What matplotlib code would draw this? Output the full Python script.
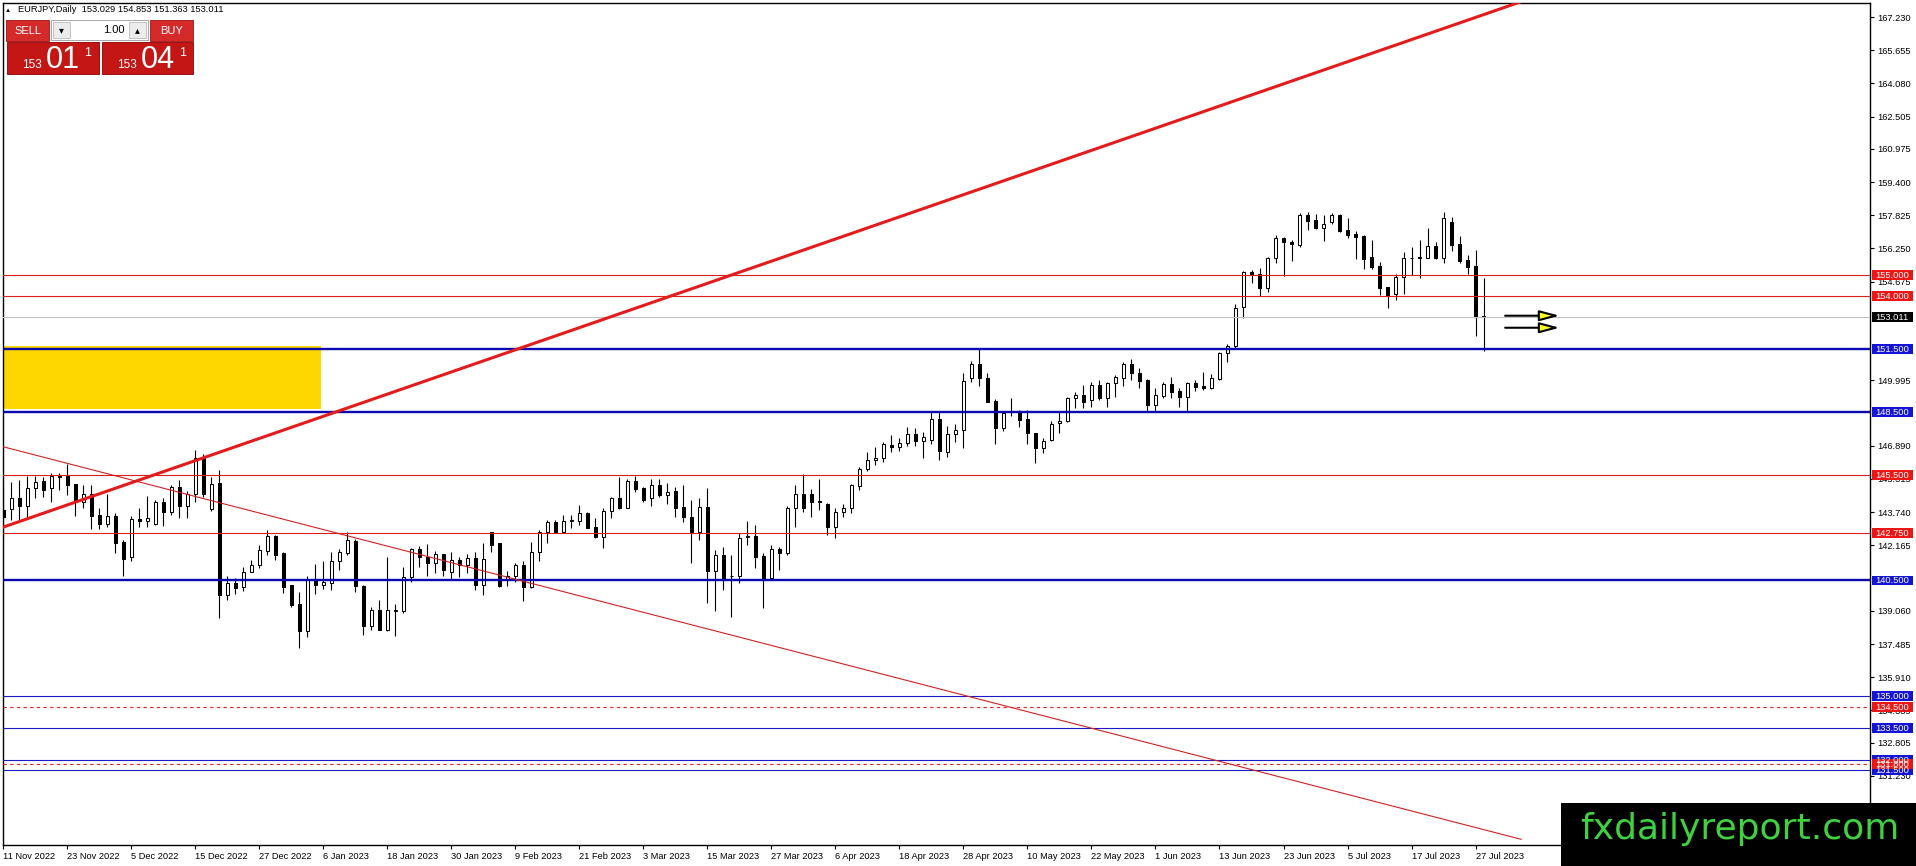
import numpy as np
import matplotlib.pyplot as plt
from matplotlib.patches import Rectangle

plt.rcParams['font.family'] = ['Liberation Sans', 'DejaVu Sans']

# ---- data ----
symbol = "EURJPY,Daily"
last_ohlc = [153.029, 154.853, 151.363, 153.011]

date_labels = ["11 Nov 2022", "23 Nov 2022", "5 Dec 2022", "15 Dec 2022", "27 Dec 2022",
               "6 Jan 2023", "18 Jan 2023", "30 Jan 2023", "9 Feb 2023", "21 Feb 2023",
               "3 Mar 2023", "15 Mar 2023", "27 Mar 2023", "6 Apr 2023", "18 Apr 2023",
               "28 Apr 2023", "10 May 2023", "22 May 2023", "1 Jun 2023", "13 Jun 2023",
               "23 Jun 2023", "5 Jul 2023", "17 Jul 2023", "27 Jul 2023"]
label_step = 8  # one date label every 8 bars

opens = [143.84, 143.87, 144.39, 144.03, 144.91, 145.21, 144.91, 145.41, 145.44, 145.06,
         144.23, 144.59, 143.60, 143.18, 143.55, 142.34, 141.63, 143.40, 143.33, 143.18,
         144.23, 143.76, 144.94, 144.03, 144.62, 146.32, 143.87, 145.13, 139.82, 140.37,
         140.19, 140.92, 141.21, 141.92, 142.61, 141.79, 140.30, 139.40, 138.09, 140.56,
         140.30, 140.37, 141.40, 141.82, 142.39, 140.25, 138.36, 139.08, 138.14, 139.06,
         139.04, 140.66, 141.98, 141.60, 141.35, 141.76, 140.92, 141.48, 141.24, 141.55,
         140.30, 142.78, 142.26, 140.53, 140.69, 141.21, 140.17, 141.87, 142.81, 143.29,
         142.81, 143.39, 143.33, 143.68, 143.05, 142.58, 143.80, 144.42, 143.95, 145.21,
         144.89, 144.42, 145.05, 144.54, 144.73, 143.98, 143.52, 142.81, 144.00, 140.96,
         141.71, 140.69, 140.69, 142.62, 142.62, 141.66, 140.60, 141.98, 141.82, 143.96,
         144.62, 144.59, 144.26, 144.15, 143.02, 143.76, 143.96, 144.97, 145.80, 146.23,
         146.32, 146.94, 146.83, 147.02, 147.46, 147.11, 147.17, 148.16, 146.59, 147.46,
         147.64, 150.10, 150.79, 150.10, 149.00, 147.74, 148.53, 148.53, 148.15, 147.49,
         146.77, 147.16, 147.95, 148.07, 149.14, 149.30, 149.06, 149.77, 149.17, 149.85,
         150.12, 150.75, 150.33, 150.01, 148.83, 149.27, 149.81, 149.49, 149.22, 149.85,
         149.72, 149.65, 150.06, 151.28, 151.64, 153.49, 155.12, 155.02, 154.36, 155.81,
         156.76, 156.57, 156.41, 157.84, 157.60, 157.20, 157.49, 157.84, 157.12, 156.92,
         156.86, 155.84, 155.42, 154.44, 154.07, 154.91, 155.78, 155.84, 155.81, 156.37,
         155.81, 157.52, 156.45, 155.70, 155.42, 153.029]
highs = [144.94, 145.17, 145.28, 145.44, 145.44, 145.41, 145.60, 145.60, 146.04, 145.10,
         145.02, 145.02, 143.96, 144.59, 143.68, 142.42, 143.55, 143.92, 144.50, 144.31,
         144.39, 145.02, 145.28, 144.75, 146.67, 146.51, 145.41, 145.76, 140.72, 140.61,
         141.16, 141.48, 142.18, 142.89, 142.66, 141.87, 140.30, 139.93, 140.72, 141.29,
         141.40, 141.87, 141.98, 142.81, 142.45, 140.30, 139.24, 139.59, 141.63, 139.40,
         141.16, 142.03, 142.14, 142.23, 141.92, 141.76, 141.87, 141.63, 141.76, 141.87,
         142.29, 142.81, 142.29, 140.97, 141.32, 141.43, 142.31, 142.89, 143.36, 143.36,
         143.60, 143.60, 144.10, 143.76, 143.44, 143.92, 144.47, 145.41, 145.33, 145.46,
         144.94, 145.33, 145.33, 145.14, 144.94, 145.02, 144.31, 144.39, 144.89, 141.95,
         142.10, 141.71, 142.73, 143.30, 143.13, 141.79, 142.18, 142.07, 144.03, 145.02,
         145.57, 144.86, 145.33, 144.18, 143.92, 144.15, 145.10, 145.88, 146.59, 146.83,
         147.06, 147.38, 147.27, 147.80, 147.74, 147.53, 148.56, 148.56, 147.85, 147.90,
         150.32, 150.89, 151.47, 150.32, 149.11, 148.56, 149.16, 148.60, 148.59, 147.49,
         147.24, 148.08, 148.50, 149.22, 149.46, 149.77, 149.93, 150.01, 149.93, 150.25,
         150.88, 151.01, 150.56, 150.06, 149.65, 149.90, 150.17, 149.65, 149.93, 150.01,
         150.41, 150.28, 151.33, 151.71, 153.60, 155.18, 155.21, 155.34, 155.86, 156.89,
         156.81, 156.65, 157.92, 157.99, 157.87, 157.84, 157.92, 157.87, 157.68, 157.08,
         156.89, 156.65, 155.62, 154.44, 155.02, 156.07, 156.34, 156.65, 157.20, 156.57,
         157.99, 157.76, 156.86, 155.94, 156.18, 154.853]
lows = [142.50, 143.36, 143.33, 143.44, 144.39, 144.47, 144.23, 144.78, 144.54, 143.55,
        143.96, 142.94, 142.92, 143.05, 141.82, 140.69, 141.44, 143.02, 143.05, 143.13,
        143.08, 143.60, 143.44, 143.44, 144.23, 144.47, 143.80, 138.72, 139.59, 139.87,
        139.98, 140.88, 141.08, 141.71, 141.48, 139.90, 139.24, 137.31, 137.82, 139.87,
        140.09, 140.06, 141.00, 141.71, 139.93, 137.93, 138.17, 138.14, 138.10, 137.86,
        138.96, 140.41, 141.16, 140.72, 140.85, 140.72, 140.50, 140.66, 140.85, 140.06,
        139.82, 141.87, 140.19, 140.22, 140.42, 139.51, 140.14, 141.43, 142.26, 142.78,
        142.78, 142.97, 143.13, 142.97, 142.50, 142.06, 143.47, 143.88, 143.92, 144.70,
        144.20, 144.04, 144.47, 144.15, 143.52, 143.25, 141.32, 142.42, 139.43, 139.04,
        140.06, 138.75, 140.37, 142.18, 141.08, 139.19, 140.56, 141.00, 141.71, 143.05,
        143.76, 143.52, 143.84, 142.66, 142.50, 143.52, 143.71, 144.81, 145.69, 145.96,
        146.12, 146.59, 146.64, 146.90, 146.90, 146.32, 146.98, 146.23, 146.35, 147.06,
        146.80, 149.90, 149.74, 148.95, 146.98, 147.58, 148.32, 147.77, 146.98, 146.06,
        146.56, 147.13, 147.51, 148.00, 148.70, 148.67, 148.75, 149.06, 148.75, 149.22,
        149.74, 150.01, 149.65, 148.51, 148.51, 149.17, 149.14, 148.75, 148.51, 149.49,
        149.54, 149.58, 150.01, 150.85, 151.55, 152.97, 154.60, 154.01, 154.20, 155.55,
        154.96, 155.65, 156.34, 157.13, 157.17, 156.61, 157.40, 157.04, 156.76, 155.75,
        155.27, 155.27, 154.04, 153.41, 153.81, 154.07, 154.99, 154.83, 155.78, 155.75,
        155.55, 156.13, 155.55, 155.02, 152.11, 151.363]
closes = [143.52, 144.39, 144.03, 144.91, 145.17, 144.78, 145.44, 145.44, 145.02, 144.23,
          144.59, 143.55, 143.18, 143.55, 142.29, 141.51, 143.40, 143.33, 143.44, 144.23,
          143.76, 144.94, 144.03, 144.62, 146.32, 144.59, 145.10, 139.82, 140.37, 140.14,
          140.92, 141.24, 141.95, 142.61, 141.71, 140.19, 139.35, 138.09, 140.56, 140.30,
          140.45, 141.43, 141.87, 142.42, 140.22, 138.36, 139.08, 138.14, 139.08, 139.08,
          140.66, 141.98, 141.60, 141.35, 141.76, 141.00, 141.48, 141.24, 141.55, 140.30,
          141.51, 142.18, 140.25, 140.69, 141.21, 140.17, 141.87, 142.81, 143.29, 142.81,
          143.33, 143.33, 143.68, 143.00, 142.58, 143.80, 144.39, 143.92, 145.21, 144.86,
          144.31, 145.05, 144.54, 144.70, 143.95, 143.52, 142.81, 144.00, 140.96, 141.71,
          140.53, 140.72, 142.53, 142.56, 141.63, 140.53, 141.98, 141.82, 143.96, 144.62,
          143.96, 144.23, 144.20, 143.02, 143.76, 143.96, 145.02, 145.80, 146.23, 146.32,
          146.98, 146.83, 147.02, 147.46, 147.11, 147.30, 148.16, 146.64, 147.46, 147.64,
          149.94, 150.79, 150.10, 148.95, 147.74, 148.43, 148.47, 148.12, 147.49, 146.77,
          147.13, 147.92, 148.08, 149.14, 149.30, 148.98, 149.77, 149.17, 149.85, 150.17,
          150.75, 150.33, 149.96, 148.83, 149.30, 149.81, 149.46, 149.22, 149.85, 149.70,
          149.65, 150.09, 151.28, 151.64, 153.44, 155.15, 155.02, 154.36, 155.81, 156.76,
          156.54, 156.45, 157.84, 157.56, 157.20, 157.40, 157.84, 157.08, 156.89, 156.81,
          155.75, 155.39, 154.39, 154.04, 154.91, 155.81, 155.81, 155.78, 156.37, 155.78,
          157.71, 156.41, 155.65, 155.39, 153.02, 153.011]

ytick_vals = [167.230, 165.655, 164.080, 162.505, 160.975, 159.400, 157.825, 156.250,
              154.675, 149.995, 146.890, 145.315, 143.740, 142.165, 139.060, 137.485,
              135.910, 134.335, 132.805, 131.230]

red_levels = [155.0, 154.0, 145.5, 142.75]
blue_thick_levels = [151.5, 148.5, 140.5]
blue_thin_levels = [135.0, 133.5, 132.0, 131.5]
red_dash_levels = [134.5, 131.8]
bid_price = 153.011

trend_up_bars, trend_up_prices = [-0.4, 190.0], [142.98, 168.0]
trend_dn_bars, trend_dn_prices = [-0.4, 189.7], [146.88, 128.22]
zone_bars, zone_prices = [-1.0, 39.7], [148.62, 151.6]
arrow_bars = [187.7, 194.5]
arrow_prices = [153.06, 152.49]

lot = "1.00"
sell_quote = ("153", "01", "1")
buy_quote = ("153", "04", "1")

# ---- figure ----
W, H = 1916, 866
fig = plt.figure(figsize=(W / 100, H / 100), dpi=100)
ax = fig.add_axes([2.5 / W, 21 / H, 1867.5 / W, 842.3 / H])
ax.set_xlim(-0.1, 233.3)
ax.set_ylim(127.95, 167.91)

o = np.array(opens); h = np.array(highs); l = np.array(lows); c = np.array(closes)
x = np.arange(len(o))
up = c >= o
ax.vlines(x, l, h, color='black', lw=0.8, zorder=2)
ax.bar(x, np.maximum(np.abs(c - o), 0.03), bottom=np.minimum(o, c), width=0.45,
       color=np.where(up, 'white', 'black'), edgecolor='black', linewidth=0.75, zorder=3)

# objects
ax.add_patch(Rectangle((zone_bars[0], zone_prices[0]), zone_bars[1] - zone_bars[0],
                       zone_prices[1] - zone_prices[0], fc='#ffd700', ec='none', zorder=0.5))
for lv in red_levels:
    ax.axhline(lv, color='#dc1e1e', lw=0.8, zorder=4)
for lv in blue_thick_levels:
    ax.axhline(lv, color='#0a0ab0', lw=1.7, zorder=4)
for lv in blue_thin_levels:
    ax.axhline(lv, color='#1a1ac8', lw=0.8, zorder=4)
for lv in red_dash_levels:
    ax.axhline(lv, color='#e02020', lw=0.8, ls=(0, (3, 3)), zorder=4)
ax.axhline(bid_price, color='#c0c0c0', lw=0.8, zorder=4)

ax.plot(trend_up_bars, trend_up_prices, color='#e41b1b', lw=2.2, zorder=5, solid_capstyle='butt')
ax.plot(trend_dn_bars, trend_dn_prices, color='#d42020', lw=0.8, zorder=5)

for p in arrow_prices:
    ax.annotate('', xy=(arrow_bars[1], p), xytext=(arrow_bars[0], p),
                arrowprops=dict(arrowstyle='-|>,head_length=1.2,head_width=0.32',
                                fc='#ffff1a', ec='black', lw=1.5, shrinkA=0, shrinkB=0),
                zorder=6)

# axes styling
for s in ax.spines.values():
    s.set_color('black')
    s.set_linewidth(1.0)
ax.yaxis.tick_right()
ax.set_yticks(ytick_vals)
ax.set_yticklabels([f"{v:.3f}" for v in ytick_vals])
ax.set_xticks(np.arange(len(date_labels)) * label_step)
ax.set_xticklabels(date_labels)
for t in ax.get_xticklabels():
    t.set_ha('left')
ax.tick_params(axis='both', labelsize=6.7, length=3, width=0.8, color='black', pad=2,
               direction='out')
ax.tick_params(axis='y', pad=2)


def price_tag(level, color):
    trans = ax.get_yaxis_transform()
    ax.add_patch(Rectangle((1.0011, level - 0.235), 0.0219, 0.47, transform=trans,
                           fc=color, ec='none', clip_on=False, zorder=20))
    ax.text(1.0118, level - 0.02, f"{level:.3f}", transform=trans, color='white',
            fontsize=6.7, ha='center', va='center', zorder=21, clip_on=False)


for lv in blue_thick_levels + blue_thin_levels:
    price_tag(lv, '#1414d6')
for lv in red_levels + red_dash_levels:
    price_tag(lv, '#ee1515')
price_tag(bid_price, 'black')


# ---- one-click trading panel and title ----
def px_rect(x0, y0, x1, y1, **kw):
    fig.add_artist(Rectangle((x0 / W, 1 - y1 / H), (x1 - x0) / W, (y1 - y0) / H,
                             transform=fig.transFigure, **kw))


def px_text(xp, yp, s, **kw):
    fig.text(xp / W, 1 - yp / H, s, **kw)


px_text(5, 10, '▲', fontsize=4.5, va='center', color='black')
px_text(18, 10, f"{symbol}  " + " ".join(f"{v:.3f}" for v in last_ohlc),
        fontsize=6.7, va='center', color='black')

red_btn = '#d42a2a'
red_box = '#c51616'
px_rect(6, 20, 49, 41, fc=red_btn, ec='#a01010', lw=0.6)
px_text(27.5, 30.5, 'SELL', color='white', fontsize=8, ha='center', va='center')
px_rect(51, 20, 148, 40, fc='white', ec='#9a9a9a', lw=0.6)
px_rect(53, 22, 70, 38, fc='#ececec', ec='#b0b0b0', lw=0.5)
px_text(61.5, 30, '▾', fontsize=7, ha='center', va='center', color='black')
px_rect(129, 22, 146, 38, fc='#ececec', ec='#b0b0b0', lw=0.5)
px_text(137.5, 30, '▴', fontsize=7, ha='center', va='center', color='black')
px_text(125, 30, lot, fontsize=8, ha='right', va='center', color='black')
px_rect(150, 20, 193, 41, fc=red_btn, ec='#a01010', lw=0.6)
px_text(171.5, 30.5, 'BUY', color='white', fontsize=8, ha='center', va='center')

for (x0, x1), quote in zip([(7, 99), (102, 193)], [sell_quote, buy_quote]):
    px_rect(x0, 42, x1, 74, fc=red_box, ec='#8a0000', lw=0.6)
    px_text(x0 + 15, 68, quote[0], color='white', fontsize=8.5, va='baseline')
    px_text(x0 + 39, 68, quote[1], color='white', fontsize=22, va='baseline')
    px_text(x0 + 77, 56, quote[2], color='white', fontsize=9, va='baseline')

# ---- watermark ----
px_rect(1561, 803, 1916, 866, fc='black', ec='none', zorder=10)
px_text(1740, 829, 'fxdailyreport.com', color='#3fd23f', fontsize=26,
        family='DejaVu Sans', ha='center', va='center', zorder=11)

fig.savefig('out.png', dpi=100)
